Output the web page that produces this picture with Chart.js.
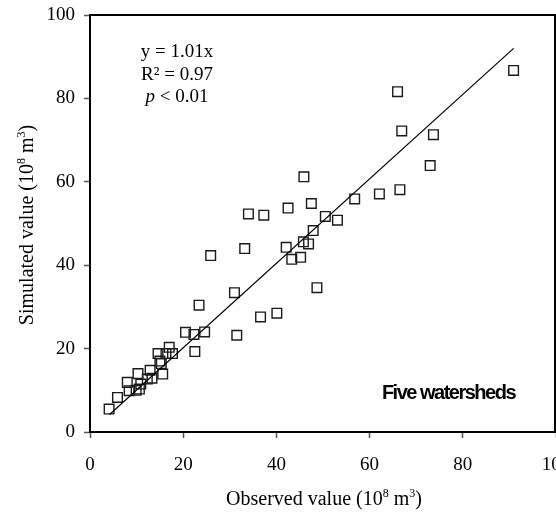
<!DOCTYPE html>
<html>
<head>
<meta charset="utf-8">
<script src="https://cdn.jsdelivr.net/npm/chart.js@4.4.0/dist/chart.umd.min.js"></script>
<style>
  html, body { margin: 0; padding: 0; background: #fff; }
  #wrap { width: 556px; height: 512px; position: relative; }
</style>
</head>
<body>
<div id="wrap"><canvas id="chart" width="556" height="512"></canvas></div>
<script>
// observed vs simulated values (10^8 m3)
const observed = [4.1, 5.9, 8.0, 8.4, 9.9, 10.6, 10.3, 10.9, 12.3, 12.9, 13.3, 14.6, 15.3, 15.0, 15.6,
  16.3, 17.0, 17.7, 20.5, 22.3, 24.6, 22.5, 23.4, 25.9, 31.0, 31.5, 33.2, 34.0, 36.6, 37.3,
  40.1, 42.1, 42.5, 43.3, 45.2, 45.8, 45.9, 46.9, 47.5, 47.9, 48.7, 50.5, 53.1, 56.8, 62.1,
  66.0, 66.5, 66.9, 73.0, 73.7, 90.9];
const simulated = [5.5, 8.3, 11.9, 9.9, 10.0, 10.3, 14.0, 11.5, 12.7, 14.8, 12.9, 18.8, 16.4, 17.0, 13.9,
  18.8, 20.3, 18.8, 23.9, 23.4, 24.0, 19.3, 30.4, 42.3, 33.4, 23.2, 44.0, 52.3, 27.6, 52.0,
  28.5, 44.3, 53.7, 41.4, 41.9, 45.6, 61.2, 45.1, 54.8, 48.3, 34.6, 51.7, 50.8, 55.9, 57.1,
  81.6, 58.1, 72.2, 63.9, 71.3, 86.7];

// fitted line y = 1.01x, end points as drawn
const fitX = [4.2, 90.9];
const fitY = [4.2, 92.0];

const xTicks = [0, 20, 40, 60, 80, 100];
const yTicks = [0, 20, 40, 60, 80, 100];

const serif = 'Liberation Serif';

// draws text made of pieces, some of them superscript
function drawRich(ctx, parts, x, y, size) {
  let total = 0;
  parts.forEach(p => {
    ctx.font = (p.sup ? Math.round(size * 0.62) : size) + 'px "' + serif + '"';
    p.w = ctx.measureText(p.t).width;
    total += p.w;
  });
  let cx = x - total / 2;
  parts.forEach(p => {
    ctx.font = (p.sup ? Math.round(size * 0.62) : size) + 'px "' + serif + '"';
    ctx.fillText(p.t, cx, p.sup ? y - size * 0.4 : y);
    cx += p.w;
  });
}

const extras = {
  id: 'extras',
  afterDraw(chart) {
    const ctx = chart.ctx;
    const a = chart.chartArea;
    ctx.save();
    // box round the plot
    ctx.strokeStyle = '#000';
    ctx.lineWidth = 2;
    ctx.strokeRect(a.left, a.top, a.right - a.left - 1, a.bottom - a.top);

    ctx.fillStyle = '#000';
    ctx.textAlign = 'left';
    ctx.textBaseline = 'alphabetic';

    // axis titles
    const unit = [{t: ' ('}, {t: '10'}, {t: '8', sup: true}, {t: ' m'}, {t: '3', sup: true}, {t: ')'}];
    drawRich(ctx, [{t: 'Observed value'}].concat(unit), 324, 505, 20);
    ctx.save();
    ctx.translate(33, 225);
    ctx.rotate(-Math.PI / 2);
    drawRich(ctx, [{t: 'Simulated value'}].concat(unit), 0, 0, 20);
    ctx.restore();

    // regression note
    ctx.textAlign = 'center';
    ctx.font = '19px "' + serif + '"';
    ctx.fillText('y = 1.01x', 177, 57);
    ctx.fillText('R² = 0.97', 177, 80);
    ctx.textAlign = 'left';
    ctx.font = 'italic 19px "' + serif + '"';
    const pw = ctx.measureText('p').width;
    ctx.font = '19px "' + serif + '"';
    const rw = ctx.measureText(' < 0.01').width;
    const sx = 177 - (pw + rw) / 2;
    ctx.font = 'italic 19px "' + serif + '"';
    ctx.fillText('p', sx, 102);
    ctx.font = '19px "' + serif + '"';
    ctx.fillText(' < 0.01', sx + pw, 102);

    // label
    ctx.textAlign = 'right';
    ctx.font = 'bold 20px "Liberation Sans"';
    if ('letterSpacing' in ctx) ctx.letterSpacing = '-1.5px';
    ctx.fillText('Five watersheds', 515, 399);
    ctx.restore();
  }
};

const ctx = document.getElementById('chart').getContext('2d');
new Chart(ctx, {
  type: 'scatter',
  data: {
    datasets: [
      {
        label: 'fit',
        data: fitX.map((x, i) => ({x: x, y: fitY[i]})),
        showLine: true,
        borderColor: '#000',
        borderWidth: 1.2,
        pointRadius: 0
      },
      {
        label: 'watersheds',
        data: observed.map((x, i) => ({x: x, y: simulated[i]})),
        pointStyle: 'rect',
        pointRadius: 6.8,
        borderWidth: 1.4,
        borderColor: '#1a1a1a',
        backgroundColor: 'rgba(0,0,0,0)'
      }
    ]
  },
  options: {
    responsive: false,
    animation: false,
    events: [],
    layout: { autoPadding: false, padding: { top: 15, right: 0, left: 0, bottom: 0 } },
    plugins: { legend: { display: false }, tooltip: { enabled: false } },
    scales: {
      x: {
        type: 'linear',
        min: 0, max: 100,
        afterBuildTicks: s => { s.ticks = xTicks.map(v => ({value: v})); },
        afterFit: s => { s.height = 80; s.paddingLeft = 0; s.paddingRight = 0; },
        grid: { drawOnChartArea: false, tickLength: 6, tickColor: '#555', tickWidth: 1.5 },
        border: { color: '#000', width: 2 },
        ticks: { color: '#000', padding: 16, maxRotation: 0, font: { family: serif, size: 19 } }
      },
      y: {
        type: 'linear',
        min: 0, max: 100,
        afterBuildTicks: s => { s.ticks = yTicks.map(v => ({value: v})); },
        afterFit: s => { s.width = 90; s.paddingTop = 0; s.paddingBottom = 0; },
        grid: { drawOnChartArea: false, tickLength: 6, tickColor: '#555', tickWidth: 1.5 },
        border: { color: '#000', width: 2 },
        ticks: { color: '#000', padding: 9, font: { family: serif, size: 19 } }
      }
    }
  },
  plugins: [extras]
});
</script>
</body>
</html>
